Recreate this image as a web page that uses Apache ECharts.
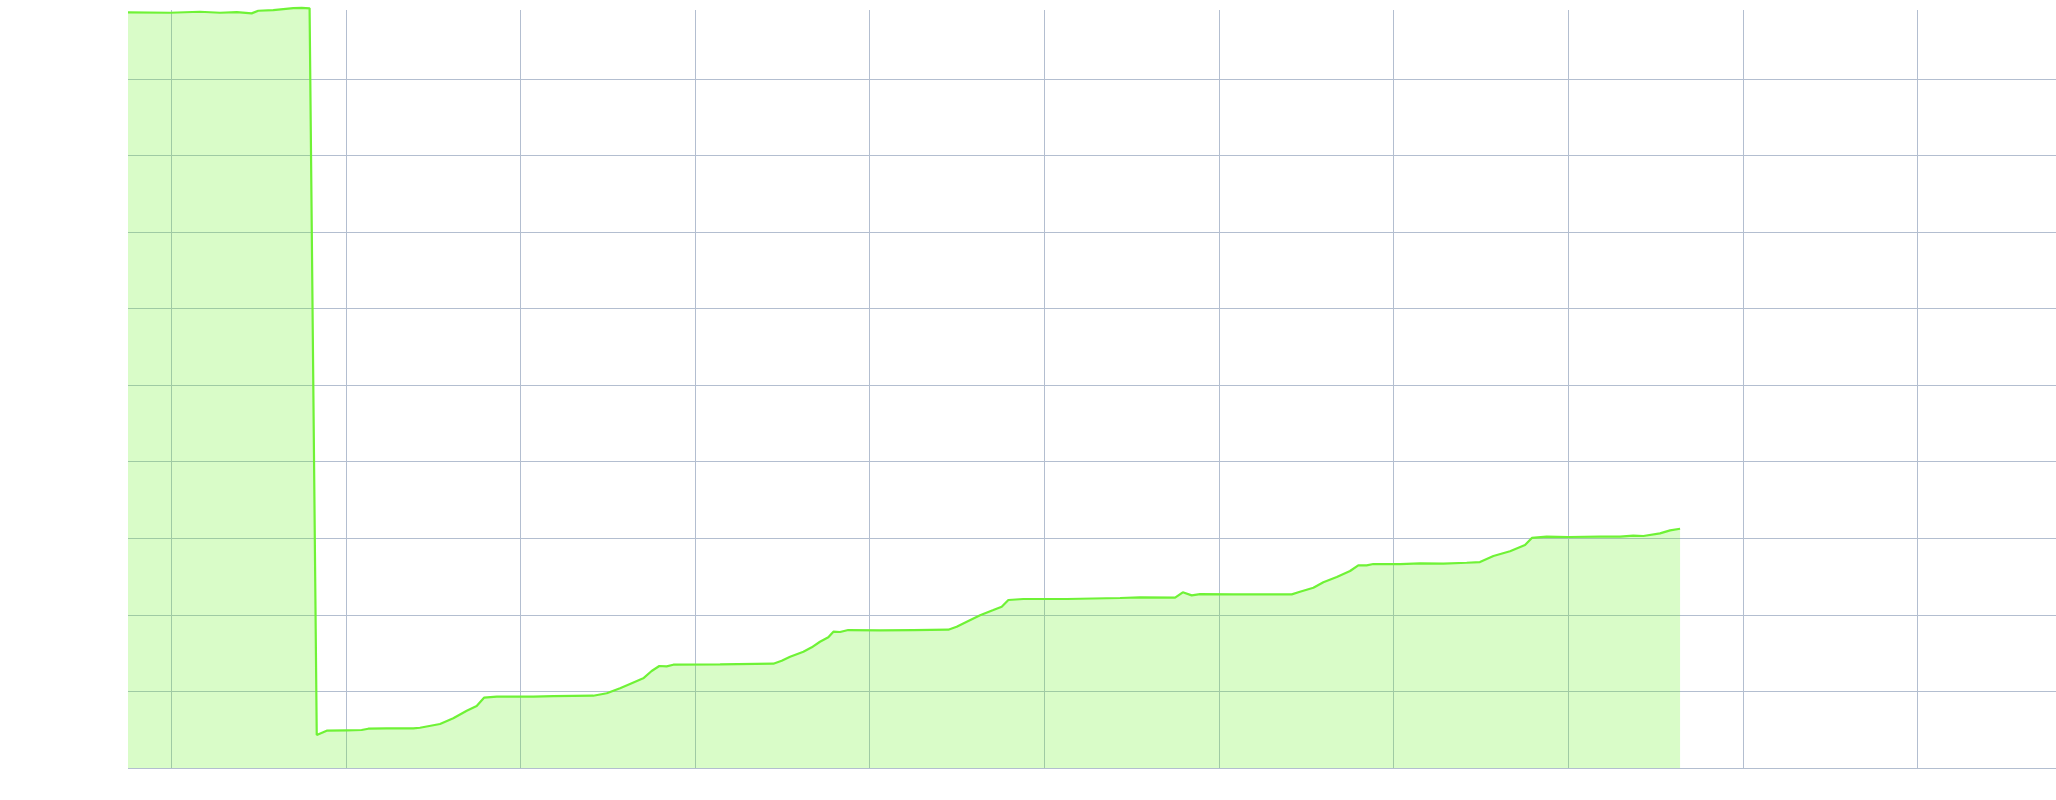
<!DOCTYPE html>
<html>
<head>
<meta charset="utf-8">
<style>
  html, body { margin: 0; padding: 0; background: #ffffff; }
  #chart { width: 2056px; height: 800px; }
</style>
<script src="https://cdn.jsdelivr.net/npm/echarts@6/dist/echarts.min.js"></script>
</head>
<body>
<div id="chart"></div>
<script>
// Series values (x in axis units, y in axis units)
const xValues = [
  -2.48, -0.07, 1.64, 2.79, 3.75, 4.60, 4.98, 5.84, 6.99, 7.47, 7.92,
  8.33, 8.90, 10.05, 10.90, 11.28, 12.34, 13.86, 14.24, 15.39, 16.15, 16.92,
  17.49, 17.91, 18.64, 20.73, 21.88, 24.17, 24.94, 25.70, 26.27, 27.03, 27.51,
  27.95, 28.37, 28.75, 31.43, 34.48, 34.96, 35.44, 36.20, 36.68, 37.15, 37.63,
  37.92, 38.30, 38.77, 40.59, 42.50, 44.50, 44.98, 45.56, 46.32, 47.08, 47.56,
  47.94, 48.80, 51.28, 54.34, 55.48, 57.49, 57.93, 58.44, 58.92, 60.82, 64.17,
  64.64, 65.41, 65.98, 66.75, 67.51, 67.98, 68.46, 68.84, 70.37, 71.52, 72.85,
  74.19, 74.95, 75.72, 76.67, 77.53, 77.92, 78.77, 80.01, 81.83, 82.97, 83.73,
  84.31, 85.26, 85.84, 86.41
];
const yValues = [
  98.69, 98.64, 98.77, 98.64, 98.73, 98.56, 98.90, 98.99, 99.25, 99.29, 99.22,
  4.31, 4.87, 4.92, 4.96, 5.13, 5.18, 5.18, 5.26, 5.75, 6.49, 7.48,
  8.10, 9.18, 9.31, 9.31, 9.40, 9.44, 9.76, 10.41, 10.97, 11.71, 12.67,
  13.32, 13.28, 13.49, 13.54, 13.62, 14.01, 14.54, 15.19, 15.76, 16.49, 17.07,
  17.80, 17.76, 18.02, 17.98, 18.02, 18.06, 18.45, 19.11, 19.94, 20.63, 21.07,
  21.94, 22.07, 22.07, 22.20, 22.29, 22.24, 22.95, 22.55, 22.72, 22.68, 22.68,
  23.02, 23.55, 24.25, 24.94, 25.73, 26.47, 26.47, 26.64, 26.64, 26.73, 26.68,
  26.81, 26.90, 27.69, 28.31, 29.12, 30.05, 30.21, 30.17, 30.21, 30.21, 30.34,
  30.30, 30.65, 31.04, 31.25
];
const xRange = [-2.48, 107.94];
const yRange = [0, 99];

const seriesData = xValues.map((x, i) => [x, yValues[i]]);

const gridColor = '#b3bed0';
const chart = echarts.init(document.getElementById('chart'), null, { renderer: 'canvas' });
chart.setOption({
  animation: false,
  backgroundColor: '#ffffff',
  grid: { left: 128, right: 0, top: 10, bottom: 32, containLabel: false },
  xAxis: {
    type: 'value',
    min: xRange[0],
    max: xRange[1],
    splitNumber: 11,
    axisLine: { show: false },
    axisTick: { show: false },
    axisLabel: { show: false },
    splitLine: { show: true, showMinLine: false, showMaxLine: false, lineStyle: { color: gridColor, width: 1 } }
  },
  yAxis: {
    type: 'value',
    min: yRange[0],
    max: yRange[1],
    splitNumber: 10,
    axisLine: { show: false },
    axisTick: { show: false },
    axisLabel: { show: false },
    splitLine: { show: true, showMaxLine: false, lineStyle: { color: gridColor, width: 1 } }
  },
  series: [{
    type: 'line',
    data: seriesData,
    showSymbol: false,
    symbol: 'none',
    clip: false,
    lineStyle: { color: '#6ff236', width: 2.2 },
    areaStyle: { color: 'rgba(100,242,30,0.35)', origin: 'start' }
  }]
});
</script>
</body>
</html>
